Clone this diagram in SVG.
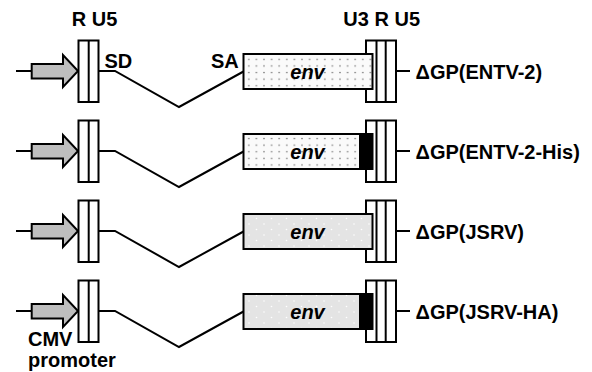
<svg xmlns="http://www.w3.org/2000/svg" width="592" height="372" viewBox="0 0 592 372">
<defs>
<pattern id="dotsA" width="7.6" height="6.6" patternUnits="userSpaceOnUse" x="245" y="56">
<rect width="7.6" height="6.6" fill="#fafafa" stroke="none"/>
<circle cx="3.8" cy="3.3" r="0.8" fill="#777777" stroke="none"/>
</pattern>
<pattern id="dotsB" width="15" height="11" patternUnits="userSpaceOnUse" x="245" y="56">
<rect width="15" height="11" fill="#e4e4e4" stroke="none"/>
<circle cx="4" cy="3" r="0.8" fill="#ffffff" stroke="none"/>
<circle cx="11.5" cy="8.5" r="0.8" fill="#ffffff" stroke="none"/>
</pattern>
<g id="row" class="s">
<line x1="16" y1="0" x2="32" y2="0"/>
<path class="arrow" d="M31.7,-7 H63 V-16 L78,0 L63,16 V7.5 H31.7 Z"/>
<rect class="box" x="78.5" y="-30.5" width="20" height="61.5"/>
<line x1="88.7" y1="-30.5" x2="88.7" y2="31"/>
<polyline class="conn" points="98.7,0 115,0 179,36 243.5,0.5"/>
<rect class="box" x="366" y="-30.5" width="30" height="61.5"/>
<line x1="376.5" y1="-30.5" x2="376.5" y2="31"/>
<line x1="385.7" y1="-30.5" x2="385.7" y2="31"/>
<line x1="396" y1="0" x2="410" y2="0"/>
</g>
</defs>
<style>
.s line, .s polyline, .s rect, .s path, .envbox { stroke: #000; stroke-width: 2; }
.box { fill: #fff; }
.conn { fill: none; }
.arrow { fill: #bebebe; }
.lbl { font-family: "Liberation Sans", Arial, sans-serif; font-weight: bold; font-size: 20px; fill: #000; }
.env { font-family: "Liberation Sans", Arial, sans-serif; font-weight: bold; font-style: italic; font-size: 20px; fill: #000; }
.blk { fill: #000; }
</style>
<g id="connectors">
<use href="#row" y="71"/>
<use href="#row" y="151"/>
<use href="#row" y="231"/>
<use href="#row" y="311"/>
</g>
<g id="header">
<text class="lbl" x="94.5" y="26" text-anchor="middle">R U5</text>
<text class="lbl" x="381.7" y="26" text-anchor="middle">U3 R U5</text>
<text class="lbl" x="104.5" y="68" font-size="18">SD</text>
<text class="lbl" x="211" y="68" font-size="18">SA</text>
</g>
<g id="node-entv2">
<rect class="envbox" x="243.5" y="54" width="129" height="35" fill="url(#dotsA)"/>
<text class="env" x="307.5" y="79" text-anchor="middle">env</text>
<text class="lbl" x="415.5" y="79">ΔGP(ENTV-2)</text>
</g>
<g id="node-entv2his">
<rect class="envbox" x="243.5" y="134" width="129" height="35" fill="url(#dotsA)"/>
<rect class="blk" x="359" y="134" width="13.5" height="35"/>
<text class="env" x="307.5" y="159" text-anchor="middle">env</text>
<text class="lbl" x="415.5" y="159">ΔGP(ENTV-2-His)</text>
</g>
<g id="node-jsrv">
<rect class="envbox" x="243.5" y="214" width="129" height="35" fill="url(#dotsB)"/>
<text class="env" x="307.5" y="239" text-anchor="middle">env</text>
<text class="lbl" x="415.5" y="239">ΔGP(JSRV)</text>
</g>
<g id="node-jsrvha">
<rect class="envbox" x="243.5" y="294" width="129" height="35" fill="url(#dotsB)"/>
<rect class="blk" x="359" y="294" width="13.5" height="35"/>
<text class="env" x="307.5" y="319" text-anchor="middle">env</text>
<text class="lbl" x="415.5" y="319">ΔGP(JSRV-HA)</text>
</g>
<g id="node-cmv">
<text class="lbl" x="28" y="346">CMV</text>
<text class="lbl" x="28" y="367">promoter</text>
</g>
</svg>
